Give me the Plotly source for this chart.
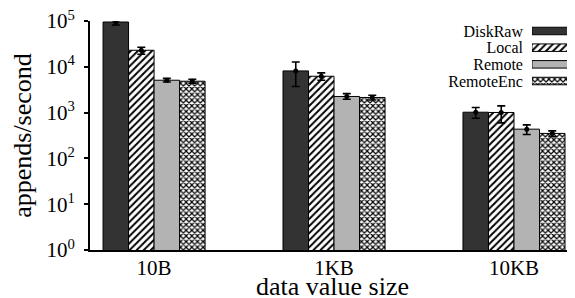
import plotly.graph_objects as go

categories = ["10B", "1KB", "10KB"]
series_names = ["DiskRaw", "Local", "Remote", "RemoteEnc"]

diskraw = [95000, 8130, 1020]
diskraw_hi = [101600, 12770, 1290]
diskraw_lo = [81800, 3710, 755]

local = [22960, 6220, 1006]
local_hi = [26700, 7350, 1400]
local_lo = [18800, 5090, 597]

remote = [5090, 2250, 435]
remote_hi = [5600, 2590, 540]
remote_lo = [4640, 1960, 333]

remoteenc = [4845, 2140, 351]
remoteenc_hi = [5330, 2400, 399]
remoteenc_lo = [4400, 1890, 296]

values = [diskraw, local, remote, remoteenc]
his = [diskraw_hi, local_hi, remote_hi, remoteenc_hi]
los = [diskraw_lo, local_lo, remote_lo, remoteenc_lo]

colors = ["#333333", "white", "#b3b3b3", "white"]
patterns = ["", "/", "", "x"]
pattern_sizes = [0, 5, 0, 4]
pattern_solidity = [0, 0.4, 0, 0.5]

ytick_vals = [1, 10, 100, 1000, 10000, 100000]
ytick_text = ["10<sup>%d</sup>" % i for i in range(6)]

x_title = "data value size"
y_title = "appends/second"

FONT = "Liberation Serif"


def marker_for(i):
    m = dict(color=colors[i], line=dict(color="black", width=1))
    if patterns[i]:
        m["pattern"] = dict(shape=patterns[i], fgcolor="black", bgcolor="white",
                            size=pattern_sizes[i], solidity=pattern_solidity[i])
    return m


fig = go.Figure()
for i, (name, v, hi, lo) in enumerate(zip(series_names, values, his, los)):
    fig.add_trace(go.Bar(
        name=name,
        x=categories,
        y=v,
        marker=marker_for(i),
        offsetgroup=str(i),
        showlegend=False,
        error_y=dict(
            type="data",
            symmetric=False,
            array=[h - x for h, x in zip(hi, v)],
            arrayminus=[x - l for x, l in zip(v, lo)],
            color="black",
            thickness=1.6,
            width=4,
        ),
    ))

# mean points drawn on top of the error bars
for i, (name, v) in enumerate(zip(series_names, values)):
    fig.add_trace(go.Scatter(
        name=name,
        x=categories,
        y=v,
        mode="markers",
        marker=dict(color="black", size=5, symbol="circle"),
        offsetgroup=str(i),
        showlegend=False,
        hoverinfo="skip",
    ))

# legend key (gnuplot style: label on the left, swatch on the right),
# drawn as one full-length swatch per series on a small inset axis
for i, name in enumerate(series_names):
    fig.add_trace(go.Bar(
        name=name,
        y=[name],
        x=[1],
        orientation="h",
        marker=marker_for(i),
        width=0.45,
        offsetgroup="key",
        showlegend=False,
        hoverinfo="skip",
        xaxis="x2",
        yaxis="y2",
    ))

# the page body adds an 8px offset, so the margins are set 8px smaller
fig.update_layout(
    template="none",
    width=575,
    height=298,
    margin=dict(l=82, r=8, t=13, b=56),
    paper_bgcolor="white",
    plot_bgcolor="rgba(0,0,0,0)",
    barmode="group",
    scattermode="group",
    bargap=0.433,
    bargroupgap=0,
    font=dict(family=FONT, color="black", size=17),
    showlegend=False,
    xaxis=dict(
        type="category",
        range=[-0.356, 2.339],
        showline=True, linecolor="black", linewidth=2,
        ticks="", showgrid=False, zeroline=False,
        automargin=False,
        tickfont=dict(family=FONT, size=21, color="black"),
        ticklabelstandoff=-2,
    ),
    yaxis=dict(
        type="log",
        range=[0, 5],
        tickvals=ytick_vals,
        ticktext=ytick_text,
        showline=True, linecolor="black", linewidth=2,
        ticks="outside", ticklen=4, tickwidth=1.5, tickcolor="black",
        showgrid=False, zeroline=False,
        automargin=False,
        ticklabeloverflow="allow",
        ticklabelstandoff=5,
        tickfont=dict(family=FONT, size=21, color="black"),
        title=dict(text=y_title, font=dict(family=FONT, size=26, color="black"), standoff=8),
    ),
    xaxis2=dict(
        domain=[0.9113, 0.9856],
        range=[0, 1],
        anchor="y2",
        visible=False,
        fixedrange=True,
    ),
    yaxis2=dict(
        domain=[0.7015, 0.9928],
        type="category",
        range=[3.5, -0.5],
        tickmode="array",
        tickvals=series_names,
        ticktext=series_names,
        anchor="x2",
        showline=False, showgrid=False, zeroline=False,
        ticks="",
        automargin=False,
        ticklabeloverflow="allow",
        ticklabelstandoff=8,
        tickfont=dict(family=FONT, size=16, color="black"),
        fixedrange=True,
    ),
    annotations=[dict(
        text=x_title,
        xref="paper", yref="paper",
        x=0.5, y=0,
        xanchor="center", yanchor="middle",
        yshift=-36,
        showarrow=False,
        font=dict(family=FONT, size=26, color="black"),
    )],
)

fig.write_html("out.html")
